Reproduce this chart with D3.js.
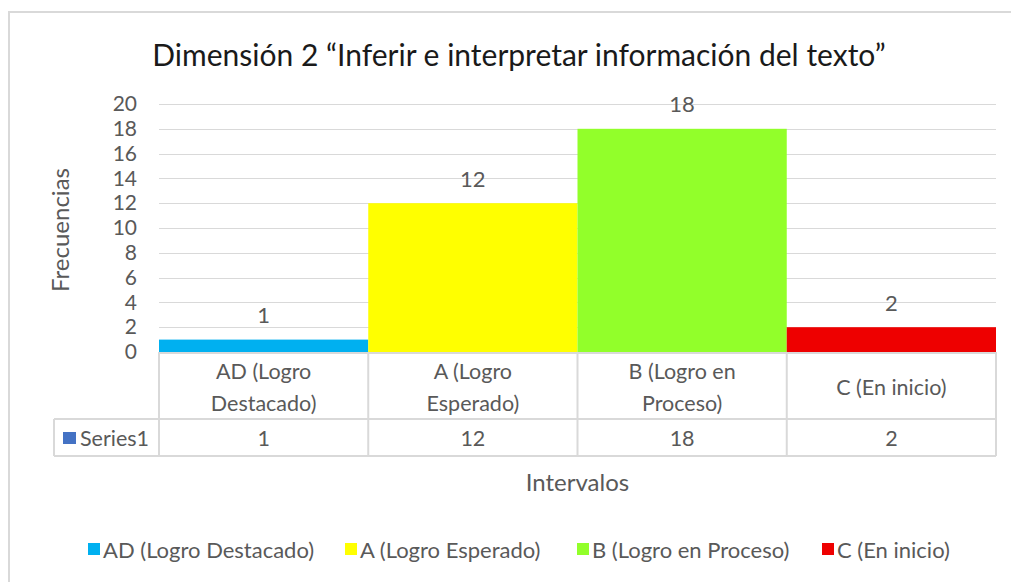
<!DOCTYPE html>
<html>
<head>
<meta charset="utf-8">
<script src="https://cdn.jsdelivr.net/npm/d3@7"></script>
<style>
  body { margin: 0; background: #fff; }
  text { font-family: Lato, "Open Sans", sans-serif; }
</style>
</head>
<body>
<svg id="chart" width="1011" height="582"></svg>
<script>
// chart data
const categories = ["AD (Logro Destacado)", "A (Logro Esperado)", "B (Logro en Proceso)", "C (En inicio)"];
const values = [1, 12, 18, 2];
const barColors = ["#00B0F0", "#FFFF00", "#92FF2A", "#EE0000"];
const yTicks = [0, 2, 4, 6, 8, 10, 12, 14, 16, 18, 20];
const seriesName = "Series1";
const title = "Dimensión 2 “Inferir e interpretar información del texto”";
const yTitle = "Frecuencias";
const xTitle = "Intervalos";

const svg = d3.select("#chart");
const grey = "#595959";
const lineCol = "#D9D9D9";

// outer chart border (runs off the picture on right / bottom)
svg.append("rect")
    .attr("x", 9).attr("y", 12)
    .attr("width", 1020).attr("height", 600)
    .attr("fill", "none")
    .attr("stroke", lineCol)
    .attr("stroke-width", 2);

const plot = { left: 159, right: 996, top: 104, bottom: 352 };

const x = d3.scaleBand()
    .domain(categories)
    .range([plot.left, plot.right])
    .padding(0);

const y = d3.scaleLinear()
    .domain([0, 20])
    .range([plot.bottom, plot.top]);

// title
svg.append("text")
    .attr("x", 519).attr("y", 66)
    .attr("text-anchor", "middle")
    .attr("font-size", 30)
    .attr("fill", "#1a1a1a")
    .text(title);

// gridlines
svg.append("g")
    .selectAll("line")
    .data(yTicks.filter(d => d > 0))
    .join("line")
    .attr("x1", plot.left).attr("x2", plot.right)
    .attr("y1", d => Math.round(y(d)) + 0.5)
    .attr("y2", d => Math.round(y(d)) + 0.5)
    .attr("stroke", lineCol);

// y axis labels
const yAxis = svg.append("g")
    .attr("transform", `translate(${plot.left - 22},0)`)
    .call(d3.axisLeft(y).tickValues(yTicks).tickSize(0).tickPadding(0));
yAxis.select(".domain").remove();
yAxis.selectAll("text")
    .attr("font-family", "Lato, sans-serif")
    .attr("font-size", 21)
    .attr("fill", grey);

svg.append("text")
    .attr("transform", `translate(69,${(plot.top + plot.bottom) / 2 + 2}) rotate(-90)`)
    .attr("text-anchor", "middle")
    .attr("font-size", 24)
    .attr("fill", grey)
    .text(yTitle);

// bars
svg.append("g")
    .selectAll("rect")
    .data(categories)
    .join("rect")
    .attr("x", d => x(d))
    .attr("width", x.bandwidth())
    .attr("y", (d, i) => y(values[i]))
    .attr("height", (d, i) => y(0) - y(values[i]))
    .attr("fill", (d, i) => barColors[i]);

// data labels
svg.append("g")
    .selectAll("text")
    .data(categories)
    .join("text")
    .attr("x", d => x(d) + x.bandwidth() / 2)
    .attr("y", (d, i) => y(values[i]) - 25)
    .attr("text-anchor", "middle")
    .attr("dominant-baseline", "central")
    .attr("font-size", 22)
    .attr("fill", grey)
    .text((d, i) => values[i]);

// data table
const rowTop = plot.bottom, rowMid = 419, rowBot = 456, legCellLeft = 54;
const table = svg.append("g").attr("stroke", lineCol).attr("stroke-width", 2);
table.append("line").attr("x1", plot.left).attr("x2", plot.right).attr("y1", rowTop + 1).attr("y2", rowTop + 1);
table.append("line").attr("x1", legCellLeft).attr("x2", plot.right).attr("y1", rowMid).attr("y2", rowMid);
table.append("line").attr("x1", legCellLeft).attr("x2", plot.right).attr("y1", rowBot).attr("y2", rowBot);
table.append("line").attr("x1", legCellLeft).attr("x2", legCellLeft).attr("y1", rowMid).attr("y2", rowBot);
table.selectAll("line.v")
    .data(categories.map(d => x(d)).concat([plot.right]))
    .join("line")
    .attr("class", "v")
    .attr("x1", d => d).attr("x2", d => d)
    .attr("y1", rowTop).attr("y2", rowBot);

// category labels, wrapped to the column width
const catText = svg.append("g")
    .selectAll("text")
    .data(categories)
    .join("text")
    .attr("text-anchor", "middle")
    .attr("font-size", 21.5)
    .attr("fill", grey)
    .attr("x", d => x(d) + x.bandwidth() / 2);

catText.each(function (d) {
    const el = d3.select(this);
    const words = d.split(" ");
    const lines = [];
    let cur = [];
    words.forEach(w => {
        el.text(cur.concat(w).join(" "));
        if (cur.length && this.getComputedTextLength() > 150) {
            lines.push(cur.join(" "));
            cur = [w];
        } else {
            cur.push(w);
        }
    });
    lines.push(cur.join(" "));
    el.text(null);
    const cy = (rowTop + rowMid) / 2 + 1, lh = 32;
    lines.forEach((l, i) => {
        el.append("tspan")
            .attr("x", x(d) + x.bandwidth() / 2)
            .attr("y", cy + (i - (lines.length - 1) / 2) * lh)
            .attr("dominant-baseline", "central")
            .text(l);
    });
});

// series row
svg.append("rect")
    .attr("x", 63).attr("y", 432)
    .attr("width", 13).attr("height", 12)
    .attr("fill", "#4472C4");
svg.append("text")
    .attr("x", 80).attr("y", (rowMid + rowBot) / 2)
    .attr("dominant-baseline", "central")
    .attr("font-size", 21.5)
    .attr("fill", grey)
    .text(seriesName);
svg.append("g")
    .selectAll("text")
    .data(categories)
    .join("text")
    .attr("x", d => x(d) + x.bandwidth() / 2)
    .attr("y", (rowMid + rowBot) / 2)
    .attr("text-anchor", "middle")
    .attr("dominant-baseline", "central")
    .attr("font-size", 21.5)
    .attr("fill", grey)
    .text((d, i) => values[i]);

// x axis title
svg.append("text")
    .attr("x", (plot.left + plot.right) / 2).attr("y", 481)
    .attr("text-anchor", "middle")
    .attr("dominant-baseline", "central")
    .attr("font-size", 24)
    .attr("fill", grey)
    .text(xTitle);

// legend
const legendX = [88, 345, 577, 822];
const legend = svg.append("g")
    .selectAll("g")
    .data(categories)
    .join("g")
    .attr("transform", (d, i) => `translate(${legendX[i]},549)`);
legend.append("rect")
    .attr("x", 0).attr("y", -6)
    .attr("width", 12).attr("height", 12)
    .attr("fill", (d, i) => barColors[i]);
legend.append("text")
    .attr("x", 15)
    .attr("dominant-baseline", "central")
    .attr("font-size", 22)
    .attr("fill", grey)
    .text(d => d);
</script>
</body>
</html>
